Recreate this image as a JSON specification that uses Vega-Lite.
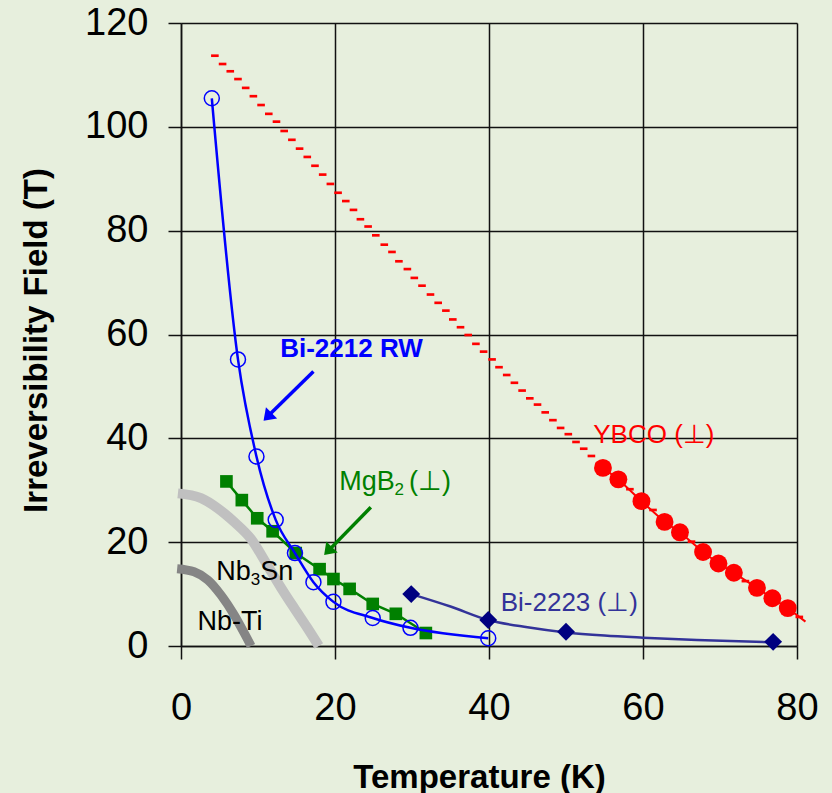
{
  "$schema": "https://vega.github.io/schema/vega-lite/v6.json",
  "width": 616,
  "height": 623,
  "autosize": "none",
  "padding": {"left": 181, "top": 23, "right": 35, "bottom": 147},
  "background": "#e7efdd",
  "config": {"view": {"stroke": null}, "font": "Liberation Sans"},
  "datasets": {
    "bi2212": [
      {"T": 4.0, "B": 105.5}, {"T": 7.4, "B": 55.2}, {"T": 9.8, "B": 36.5}, {"T": 12.3, "B": 24.3},
      {"T": 14.8, "B": 17.9}, {"T": 17.2, "B": 12.3}, {"T": 19.8, "B": 8.5}, {"T": 24.9, "B": 5.4},
      {"T": 29.8, "B": 3.5}, {"T": 39.9, "B": 1.5}
    ],
    "mgb2": [
      {"T": 5.9, "B": 31.7}, {"T": 7.9, "B": 28.1}, {"T": 9.9, "B": 24.6}, {"T": 11.9, "B": 22.1},
      {"T": 14.9, "B": 17.9}, {"T": 18.0, "B": 14.8}, {"T": 19.8, "B": 12.9}, {"T": 21.9, "B": 11.0},
      {"T": 24.9, "B": 8.1}, {"T": 27.9, "B": 6.2}, {"T": 31.8, "B": 2.5}
    ],
    "bi2223pts": [
      {"T": 29.9, "B": 10.0}, {"T": 39.9, "B": 5.0}, {"T": 50.0, "B": 2.75}, {"T": 76.9, "B": 0.8}
    ],
    "bi2223line": [
      {"T": 29.9, "B": 10.0}, {"T": 35, "B": 7.6}, {"T": 39.9, "B": 5.0}, {"T": 45, "B": 3.6},
      {"T": 50, "B": 2.6}, {"T": 55, "B": 2.0}, {"T": 60, "B": 1.6}, {"T": 67, "B": 1.15}, {"T": 76.9, "B": 0.7}
    ],
    "ybcoPts": [
      {"T": 54.8, "B": 34.3}, {"T": 56.8, "B": 32.1}, {"T": 59.8, "B": 27.9}, {"T": 62.8, "B": 23.9},
      {"T": 64.8, "B": 21.9}, {"T": 67.8, "B": 18.1}, {"T": 69.8, "B": 15.9}, {"T": 71.8, "B": 14.1},
      {"T": 74.8, "B": 11.2}, {"T": 76.8, "B": 9.2}, {"T": 78.8, "B": 7.3}
    ],
    "ybcoFit": [
      {"T": 54.8, "B": 34.3}, {"T": 56.8, "B": 32.1}, {"T": 59.8, "B": 27.9}, {"T": 62.8, "B": 23.9},
      {"T": 64.8, "B": 21.9}, {"T": 67.8, "B": 18.1}, {"T": 69.8, "B": 15.9}, {"T": 71.8, "B": 14.1},
      {"T": 74.8, "B": 11.2}, {"T": 76.8, "B": 9.2}, {"T": 78.8, "B": 7.3}, {"T": 81.1, "B": 4.7}
    ],
    "ybcoDash": [
      {"T": 4.4, "B": 113.7}, {"T": 5.4, "B": 112.1}, {"T": 6.4, "B": 110.7}, {"T": 7.4, "B": 109.2},
      {"T": 8.4, "B": 107.5}, {"T": 9.4, "B": 105.9}, {"T": 10.4, "B": 104.2}, {"T": 11.4, "B": 102.5},
      {"T": 12.4, "B": 101.0}, {"T": 13.4, "B": 99.2}, {"T": 14.4, "B": 97.5}, {"T": 15.4, "B": 95.8},
      {"T": 16.4, "B": 94.2}, {"T": 17.4, "B": 92.5}, {"T": 18.4, "B": 90.8}, {"T": 19.4, "B": 89.0},
      {"T": 20.4, "B": 87.3}, {"T": 21.4, "B": 85.7}, {"T": 22.4, "B": 84.0}, {"T": 23.3, "B": 82.2},
      {"T": 24.3, "B": 80.8}, {"T": 25.3, "B": 79.1}, {"T": 26.4, "B": 77.3}, {"T": 27.4, "B": 75.9},
      {"T": 28.3, "B": 74.1}, {"T": 29.4, "B": 72.6}, {"T": 30.3, "B": 70.9}, {"T": 31.3, "B": 69.4},
      {"T": 32.4, "B": 67.7}, {"T": 33.4, "B": 66.1}, {"T": 34.4, "B": 64.6}, {"T": 35.3, "B": 62.9},
      {"T": 36.3, "B": 61.4}, {"T": 37.3, "B": 59.9}, {"T": 38.3, "B": 58.2}, {"T": 39.3, "B": 56.7},
      {"T": 40.4, "B": 55.2}, {"T": 41.3, "B": 53.7}, {"T": 42.3, "B": 52.2}, {"T": 43.3, "B": 50.7},
      {"T": 44.3, "B": 49.2}, {"T": 45.3, "B": 47.7}, {"T": 46.3, "B": 46.5}, {"T": 47.3, "B": 45.0},
      {"T": 48.3, "B": 43.5}, {"T": 49.3, "B": 42.0}, {"T": 50.3, "B": 40.8}, {"T": 51.3, "B": 39.3},
      {"T": 52.3, "B": 38.0}, {"T": 53.3, "B": 36.6}, {"T": 54.3, "B": 35.1}, {"T": 55.3, "B": 33.7},
      {"T": 56.3, "B": 32.6}, {"T": 57.3, "B": 31.4}, {"T": 58.3, "B": 30.2}, {"T": 59.3, "B": 28.7},
      {"T": 60.3, "B": 27.4}, {"T": 61.3, "B": 26.2}, {"T": 62.3, "B": 24.6}, {"T": 63.3, "B": 23.4},
      {"T": 64.3, "B": 22.3}, {"T": 65.3, "B": 21.2}, {"T": 66.3, "B": 20.1}, {"T": 67.3, "B": 18.8},
      {"T": 68.3, "B": 17.6}, {"T": 69.3, "B": 16.5}, {"T": 70.3, "B": 15.4}, {"T": 71.3, "B": 14.5},
      {"T": 72.3, "B": 13.4}, {"T": 73.3, "B": 12.5}, {"T": 74.3, "B": 11.6}, {"T": 75.3, "B": 10.6},
      {"T": 76.3, "B": 9.7}, {"T": 77.3, "B": 8.8}, {"T": 78.3, "B": 7.8}, {"T": 79.3, "B": 6.8},
      {"T": 80.3, "B": 5.6}
    ],
    "nb3sn": [
      {"T": -0.4, "B": 29.4}, {"T": 2.6, "B": 28.5}, {"T": 4.8, "B": 26.5}, {"T": 6.9, "B": 23.9},
      {"T": 9.1, "B": 20.6}, {"T": 11.2, "B": 15.6}, {"T": 13.0, "B": 11.2}, {"T": 14.7, "B": 7.3},
      {"T": 16.4, "B": 3.5}, {"T": 17.9, "B": 0}
    ],
    "nbti": [
      {"T": -0.5, "B": 14.9}, {"T": 1.7, "B": 14.3}, {"T": 3.5, "B": 12.7}, {"T": 5.2, "B": 9.8},
      {"T": 6.9, "B": 6.0}, {"T": 8.6, "B": 1.4}, {"T": 9.1, "B": 0}
    ],
    "lblBi2212": [{"T": 12.88, "B": 55.6, "label": "Bi-2212 RW"}],
    "lblMgB2": [{"T": 20.54, "B": 30.06, "label": "MgB"}, {"T": 29.62, "B": 30.06, "label": "(⊥)"}],
    "subMgB2": [{"T": 27.74, "B": 29.1, "label": "2"}],
    "lblYBCO": [{"T": 53.54, "B": 39.06, "label": "YBCO (⊥)"}],
    "lblBi2223": [{"T": 41.52, "B": 6.8, "label": "Bi-2223 (⊥)"}],
    "lblNb": [{"T": 4.58, "B": 12.7, "label": "Nb"}, {"T": 10.29, "B": 12.7, "label": "Sn"}, {"T": 2.15, "B": 3.08, "label": "Nb-Ti"}],
    "subNb": [{"T": 9.06, "B": 11.7, "label": "3"}],
    "arrowBlue": [{"T": 17.2, "B": 52.85, "T2": 11.64, "B2": 44.8}],
    "headBlue": [{"T": 10.72, "B": 43.4}],
    "arrowGreen": [{"T": 24.65, "B": 26.72, "T2": 19.5, "B2": 18.9}],
    "headGreen": [{"T": 18.59, "B": 17.53}]
  },
  "encoding": {
    "x": {
      "field": "T", "type": "quantitative",
      "scale": {"domain": [0, 80], "nice": false, "zero": false},
      "axis": {
        "values": [0, 20, 40, 60, 80], "grid": true, "gridColor": "#111111", "gridWidth": 1.5, "gridOpacity": 1,
        "domainColor": "#111111", "domainWidth": 1.5, "tickColor": "#111111", "tickWidth": 1.5, "tickSize": 13,
        "labelFont": "Liberation Sans", "labelFontSize": 38, "labelColor": "#000000", "labelPadding": 30,
        "labelFlush": false, "labelOverlap": false,
        "title": "Temperature (K)", "titleFont": "Liberation Sans", "titleFontSize": 33, "titleFontWeight": "bold",
        "titleColor": "#000000", "titleX": 298, "titleY": 141, "titleBaseline": "alphabetic", "titleAlign": "center"
      }
    },
    "y": {
      "field": "B", "type": "quantitative",
      "scale": {"domain": [0, 120], "nice": false},
      "axis": {
        "values": [0, 20, 40, 60, 80, 100, 120], "grid": true, "gridColor": "#111111", "gridWidth": 1.5, "gridOpacity": 1,
        "domainColor": "#111111", "domainWidth": 1.5, "tickColor": "#111111", "tickWidth": 1.5, "tickSize": 13,
        "labelFont": "Liberation Sans", "labelFontSize": 38, "labelColor": "#000000", "labelPadding": 20,
        "labelFlush": false, "labelOverlap": false,
        "title": "Irreversibility Field (T)", "titleFont": "Liberation Sans", "titleFontSize": 33, "titleFontWeight": "bold",
        "titleColor": "#000000", "titleX": -135, "titleY": 317, "titleBaseline": "alphabetic", "titleAlign": "center", "titleAngle": -90
      }
    }
  },
  "layer": [
    {"data": {"name": "nb3sn"}, "mark": {"type": "line", "color": "#c0c0c0", "strokeWidth": 10, "strokeCap": "butt", "interpolate": "monotone"}},
    {"data": {"name": "nbti"}, "mark": {"type": "line", "color": "#858585", "strokeWidth": 9, "strokeCap": "butt", "interpolate": "monotone"}},
    {"data": {"name": "ybcoDash"}, "mark": {"type": "point", "shape": "M-1,-0.35L1,-0.35L1,0.35L-1,0.35Z", "size": 58, "filled": true, "color": "#ff0000", "opacity": 1, "strokeWidth": 0}},
    {"data": {"name": "ybcoFit"}, "mark": {"type": "line", "color": "#ff0000", "strokeWidth": 2}},
    {"data": {"name": "ybcoPts"}, "mark": {"type": "point", "shape": "circle", "size": 320, "filled": true, "color": "#ff0000", "opacity": 1, "strokeWidth": 0}},
    {"data": {"name": "mgb2"}, "mark": {"type": "line", "color": "#008000", "strokeWidth": 2.5}},
    {"data": {"name": "mgb2"}, "mark": {"type": "point", "shape": "square", "size": 160, "filled": true, "color": "#008000", "opacity": 1, "strokeWidth": 0}},
    {"data": {"name": "bi2223line"}, "mark": {"type": "line", "color": "#333399", "strokeWidth": 2.5, "interpolate": "monotone"}},
    {"data": {"name": "bi2223pts"}, "mark": {"type": "point", "shape": "diamond", "size": 320, "filled": true, "color": "#000080", "opacity": 1, "strokeWidth": 0}},
    {"data": {"name": "bi2212"}, "mark": {"type": "line", "color": "#0000ff", "strokeWidth": 2.5, "interpolate": "monotone"}},
    {"data": {"name": "bi2212"}, "mark": {"type": "point", "shape": "circle", "size": 225, "filled": false, "color": "#0000ff", "opacity": 1, "strokeWidth": 1.5}},
    {"data": {"name": "arrowBlue"}, "mark": {"type": "rule", "color": "#0000ff", "strokeWidth": 3.5}, "encoding": {"x2": {"field": "T2"}, "y2": {"field": "B2"}}},
    {"data": {"name": "headBlue"}, "mark": {"type": "point", "shape": "M0,0L-1,1.4L1,1.4Z", "size": 256, "angle": 225.6, "filled": true, "color": "#0000ff", "opacity": 1, "strokeWidth": 0}},
    {"data": {"name": "arrowGreen"}, "mark": {"type": "rule", "color": "#008000", "strokeWidth": 3.5}, "encoding": {"x2": {"field": "T2"}, "y2": {"field": "B2"}}},
    {"data": {"name": "headGreen"}, "mark": {"type": "point", "shape": "M0,0L-1,1.4L1,1.4Z", "size": 256, "angle": 224.4, "filled": true, "color": "#008000", "opacity": 1, "strokeWidth": 0}},
    {"data": {"name": "lblBi2212"}, "mark": {"type": "text", "align": "left", "baseline": "alphabetic", "font": "Liberation Sans", "fontSize": 26, "fontWeight": "bold", "color": "#0000ff"}, "encoding": {"text": {"field": "label"}}},
    {"data": {"name": "lblMgB2"}, "mark": {"type": "text", "align": "left", "baseline": "alphabetic", "font": "Liberation Sans", "fontSize": 27, "color": "#008000"}, "encoding": {"text": {"field": "label"}}},
    {"data": {"name": "subMgB2"}, "mark": {"type": "text", "align": "left", "baseline": "alphabetic", "font": "Liberation Sans", "fontSize": 17, "color": "#008000"}, "encoding": {"text": {"field": "label"}}},
    {"data": {"name": "lblYBCO"}, "mark": {"type": "text", "align": "left", "baseline": "alphabetic", "font": "Liberation Sans", "fontSize": 26, "color": "#ff0000"}, "encoding": {"text": {"field": "label"}}},
    {"data": {"name": "lblBi2223"}, "mark": {"type": "text", "align": "left", "baseline": "alphabetic", "font": "Liberation Sans", "fontSize": 26, "color": "#333399"}, "encoding": {"text": {"field": "label"}}},
    {"data": {"name": "lblNb"}, "mark": {"type": "text", "align": "left", "baseline": "alphabetic", "font": "Liberation Sans", "fontSize": 27, "color": "#000000"}, "encoding": {"text": {"field": "label"}}},
    {"data": {"name": "subNb"}, "mark": {"type": "text", "align": "left", "baseline": "alphabetic", "font": "Liberation Sans", "fontSize": 17, "color": "#000000"}, "encoding": {"text": {"field": "label"}}}
  ]
}
